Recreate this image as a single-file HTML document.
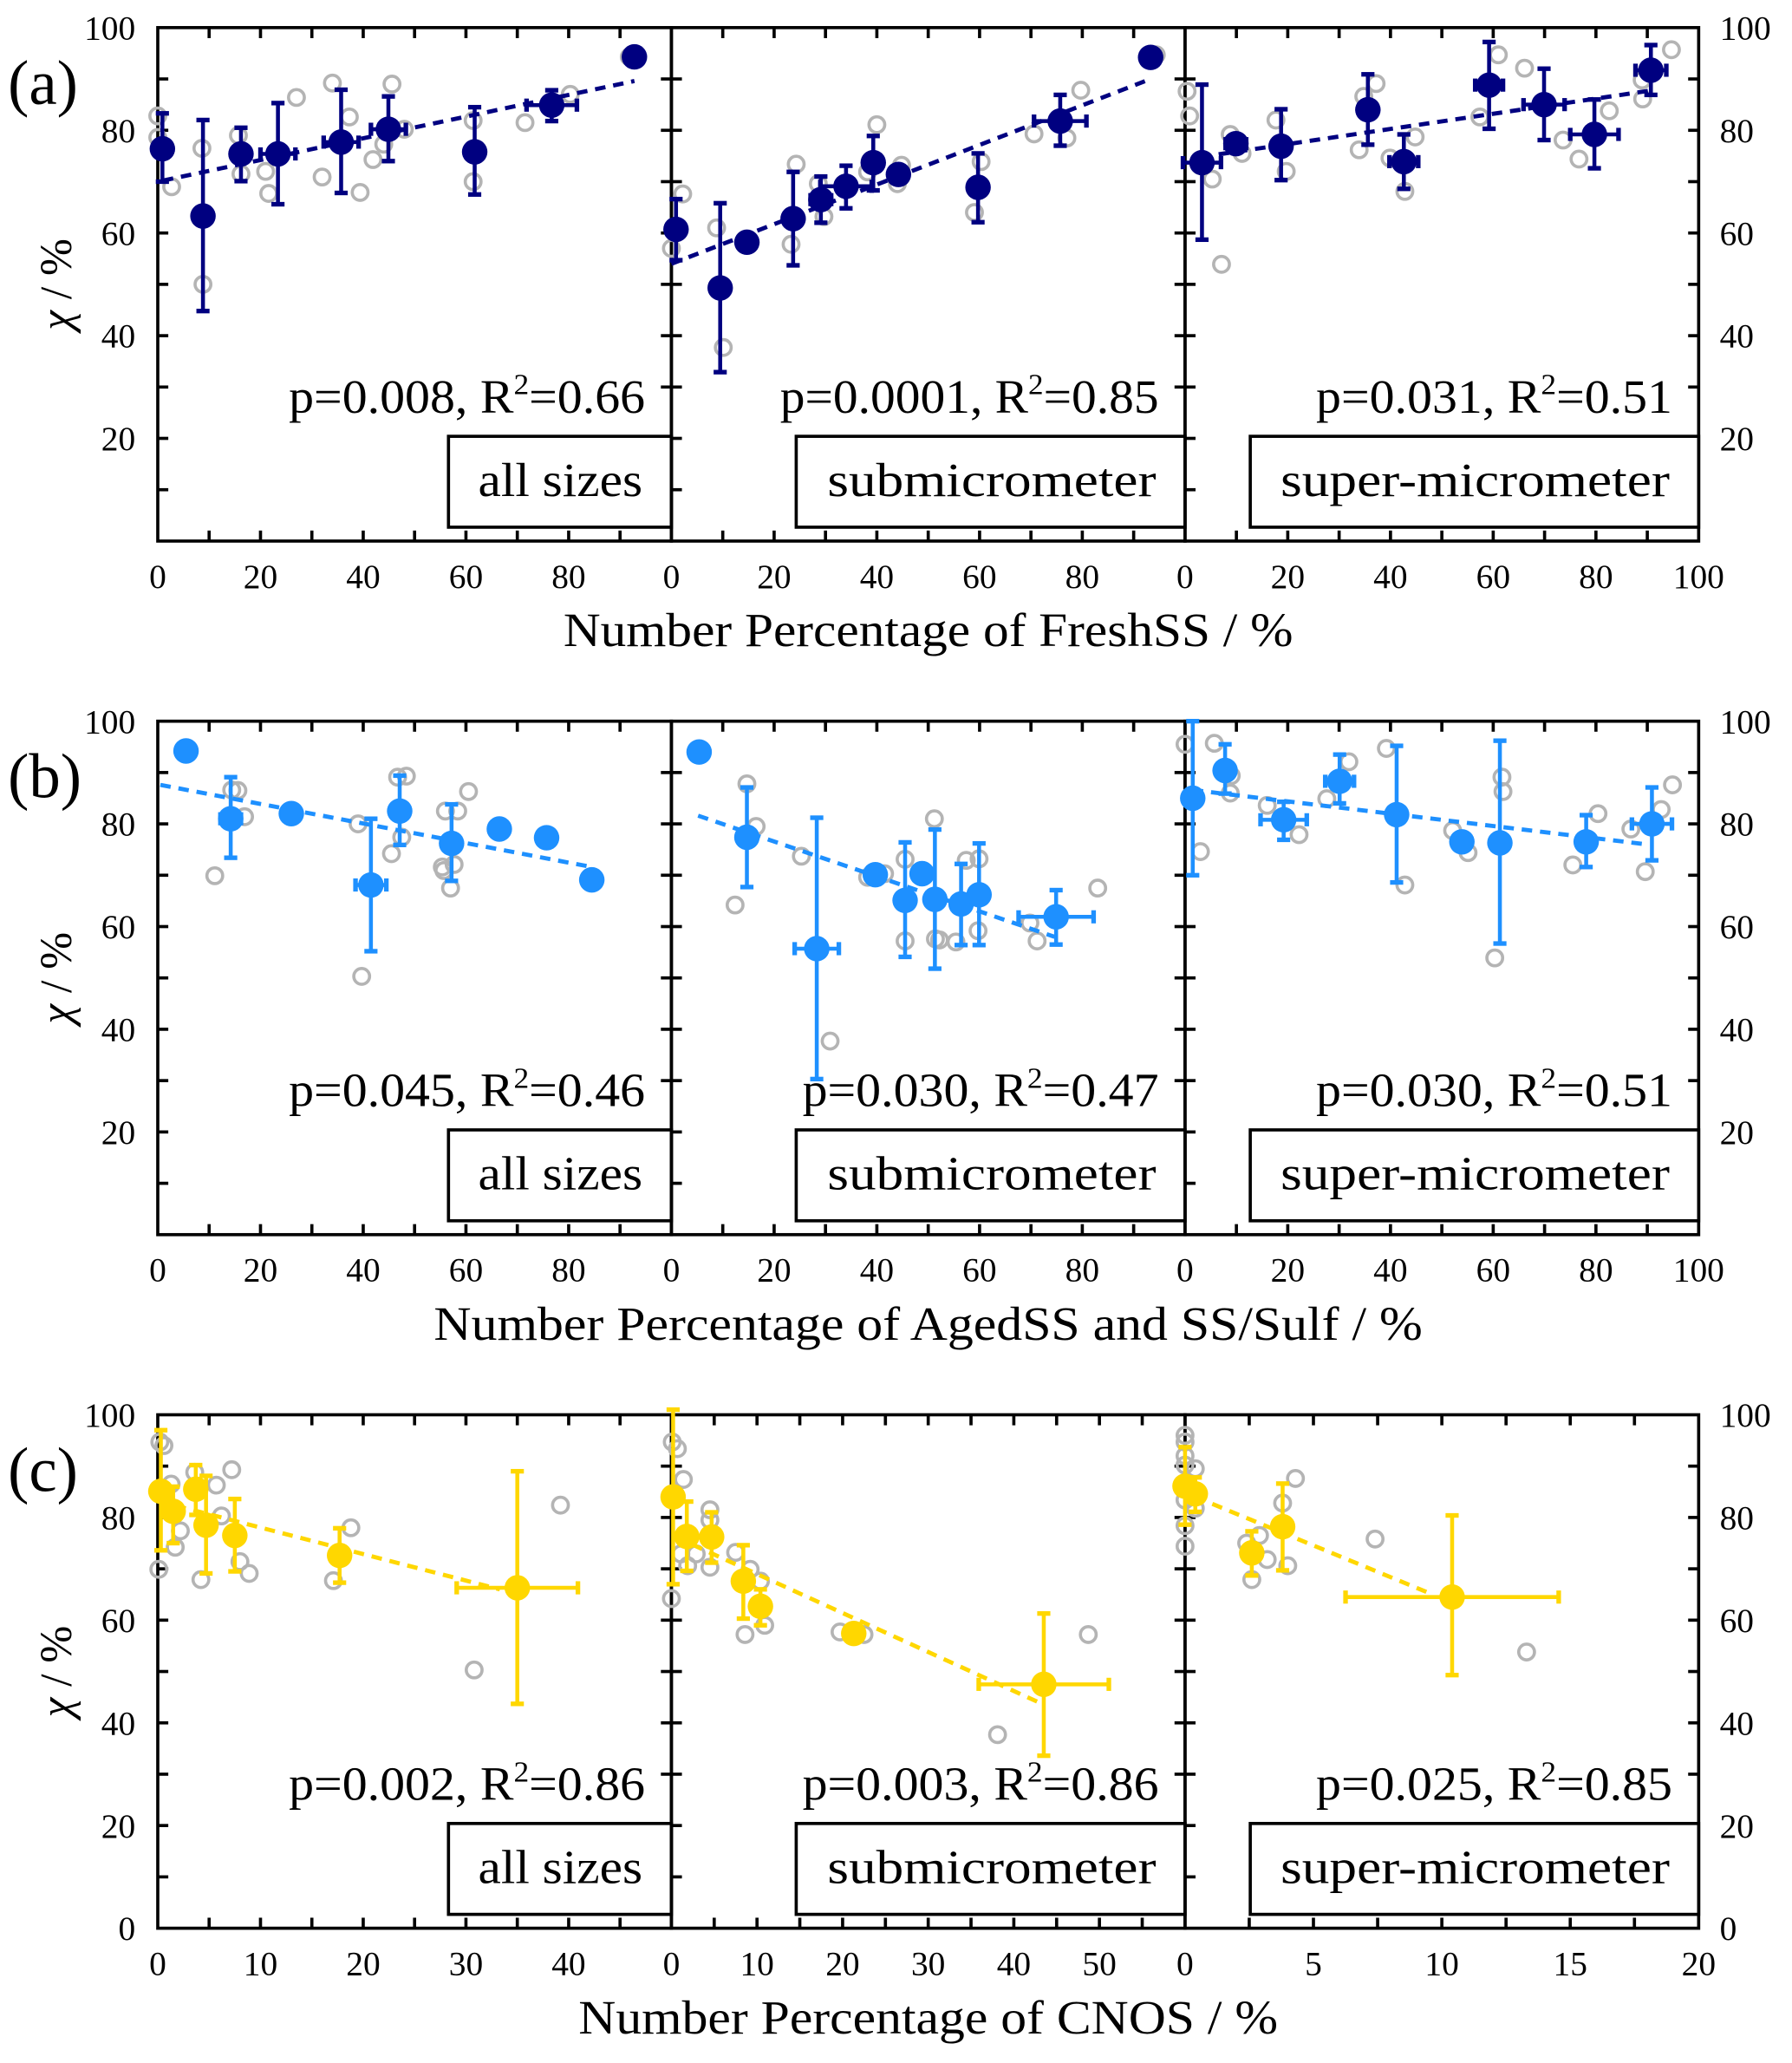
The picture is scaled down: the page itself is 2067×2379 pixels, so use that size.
<!DOCTYPE html>
<html><head><meta charset="utf-8"><title>chi vs number percentage</title>
<style>
html,body{margin:0;padding:0;background:#fff;}
svg{display:block;font-family:"Liberation Serif","DejaVu Serif",serif;}
text,tspan{font-family:"Liberation Serif","DejaVu Serif",serif;fill:#000;}
</style></head>
<body>
<svg id="chart" width="2067" height="2379" viewBox="0 0 1363 1569" preserveAspectRatio="none" font-family="Liberation Serif, DejaVu Serif, serif"></svg>
<script>
// ---------- data ----------
const a1_x=[0.9,8.8,16.2,23.4,35.7,44.9,61.7,76.7,92.8];
const a1_y=[76.4,63.3,75.4,75.4,77.7,80.2,75.8,84.9,94.3];
const a1_yHi=[83.3,82,80.5,85.3,87.9,86.6,84.5,87.8,null];
const a1_yLo=[70,44.8,70.1,65.6,67.8,74,67.5,81.8,null];
const a1_xErr=[0,0,0,3.4,3.4,3.4,0,4.9,0];
const a1_trend=[1,70.2,92.8,89.6];
const a1_gx=[0,0,2.7,8.6,8.8,15.7,16.2,21,21.6,27,32,34,37.3,39.4,41.9,44,45.6,48,61.4,61.4,71.5,80.3,91.8];
const a1_gy=[82.8,78.6,69,76.5,50,79,71.5,72,67.7,86.4,70.9,89.2,82.6,67.9,74.3,77.3,89,80.2,81.9,70,81.5,87,94.3];

const a2_x=[0.9,9.5,14.7,23.7,29.1,34,39.3,44.2,59.7,75.7,93.3];
const a2_y=[60.7,49.3,58.2,62.8,66.5,69.1,73.7,71.4,68.9,81.8,94.2];
const a2_yHi=[66.6,65.8,null,71.9,71,73.1,78.9,null,75.5,86.9,null];
const a2_yLo=[54.7,32.9,null,53.7,62,64.8,68.3,null,62.1,77,null];
const a2_xErr=[0,0,0,0,2,5,0,0,0,5.1,0];
const a2_trend=[0,54,93.3,90];
const a2_gx=[2.2,0,8.8,10.1,24.3,23.3,28.6,29.7,38.2,40,44.8,44,60.3,59,70.6,79.7,77,94.4];
const a2_gy=[67.6,57,61,37.7,73.4,57.8,69.6,63.2,71.9,81.1,73.2,69.6,73.9,64,79.3,87.8,78.5,94.7];

const a3_x=[3.3,9.9,18.7,35.6,42.6,59.2,69.9,79.7,90.7];
const a3_y=[73.7,77.4,76.9,84,73.9,88.8,85,79.2,91.7];
const a3_yHi=[88.9,null,84.1,90.9,79.2,97.2,92,86,96.6];
const a3_yLo=[58.7,null,70.3,77.2,68.6,80.3,78.1,72.6,86.9];
const a3_xErr=[3.7,2,0,0,2.8,2.7,4,4.7,3];
const a3_trend=[3,74.8,91,87.8];
const a3_gx=[0.4,0.9,5.3,7.1,8.8,11.1,17.7,19.7,33.9,34.8,37.2,39.9,44.8,42.8,61,57.4,66.1,73.6,76.7,82.6,89.1,89,94.7];
const a3_gy=[87.6,82.8,70.5,53.9,79.2,75.5,82,72,76.2,86.6,89.1,74.6,78.7,68.1,94.7,82.6,92.1,78.1,74.4,83.8,86.1,89.8,95.7];

const b1_x=[5.5,14.2,26,41.5,47.1,57.2,66.5,75.7,84.5];
const b1_y=[94.2,81,82,68.1,82.5,76.2,79,77.3,69.1];
const b1_yHi=[null,89.1,null,81,89.4,83.8,null,null,null];
const b1_yLo=[null,73.4,null,55.2,75.9,68.9,null,null,null];
const b1_xErr=[0,2,0,3,0,0,0,0,0];
const b1_trend=[0.5,87.6,84.5,71.6];
const b1_gx=[11.1,14.4,15.6,16.9,39,39.7,45.5,46.7,48.4,47.5,56,58.4,55.4,55.7,57.7,57,60.5];
const b1_gy=[69.9,86.6,86.5,81.4,80,50.3,74.2,89.1,89.3,77.4,82.5,82.5,71.6,70.9,72.1,67.5,86.3];

const b2_x=[5.4,14.7,28.3,39.7,48.8,45.5,51.3,56.4,59.9,74.9];
const b2_y=[94,77.4,55.7,70.1,70.3,65.1,65.3,64.4,66.2,61.9];
const b2_yHi=[null,87.1,81.2,null,null,76.4,78.9,72.2,76.2,67.1];
const b2_yLo=[null,67.7,30.3,null,null,54.1,51.8,56.4,56.4,56.5];
const b2_xErr=[0,0,4.3,0,0,0,0,0,0,7.3];
const b2_trend=[5.2,81.6,74.6,58];
const b2_gx=[14.7,16.5,12.4,25.3,30.9,38.2,41.5,45.5,45.5,51.2,51.4,52.2,55.4,57.4,59.9,59.7,69.8,71.2,83];
const b2_gy=[87.8,79.5,64.2,73.7,37.7,69.6,70.3,73.1,57.2,81,57.6,57.4,57,72.9,73.2,59.2,60.7,57.2,67.5];

const b3_x=[1.5,7.8,19.2,30.1,41.2,53.9,61.3,78.1,90.9];
const b3_y=[85,90.4,80.8,88.3,81.8,76.5,76.3,76.5,80];
const b3_yHi=[100,95.5,84.3,93.5,95.2,null,96.2,81.7,87.1];
const b3_yLo=[70,85.9,76.9,84,68.6,null,56.7,71.6,72.9];
const b3_xErr=[0,0,4.5,2.8,0,0,0,0,3.9];
const b3_trend=[1.5,86.6,89.1,76.1];
const b3_gx=[0,5.7,3,9,8.8,16,22.2,27.6,31.9,39.2,42.8,52.1,55.1,61.7,61.9,60.3,75.5,80.4,86.8,89.6,92.7,94.9];
const b3_gy=[95.5,95.7,74.6,89.4,86,83.6,77.9,84.9,92.1,94.7,68.1,78.7,74.4,89.1,86.3,53.9,72,82,79,70.7,82.8,87.6];

const c1_x=[0.3,1.5,3.7,4.7,7.5,17.7,35];
const c1_y=[85.1,81.2,85.5,78.5,76.5,72.6,66.3];
const c1_yHi=[97,86,90.2,88.1,83.6,77.9,89];
const c1_yLo=[73.6,75,80.5,69.1,69.5,67.3,43.7];
const c1_xErr=[0,0,0,0,0,0,5.9];
const c1_trend=[0,83.2,33.3,66];
const c1_gx=[0.2,0.6,0.1,1.3,2.2,1.7,3.6,5.7,7.2,6.2,4.2,8,8.9,17.1,18.8,30.8,39.2];
const c1_gy=[94.7,94,69.9,86.5,77.4,74.2,88.8,86.3,89.3,80.3,67.9,71.4,69.1,67.7,78,50.3,82.4];

const c2_x=[0.2,1.8,4.7,8.4,10.4,21.3,43.5];
const c2_y=[84,76.3,76.2,67.6,62.7,57.4,47.5];
const c2_yHi=[101,83.1,81,74.6,66,null,61.3];
const c2_yLo=[67,69.6,71.2,60.3,59,null,33.6];
const c2_xErr=[0,0,0,0,0,0,7.6];
const c2_trend=[0.5,76.2,42.9,44];
const c2_gx=[0.1,0.7,0,1.4,1.1,2.9,1.9,4.5,4.5,4.5,7.5,9.2,10.4,8.6,10.9,19.7,22.5,38.1,48.7];
const c2_gy=[94.7,93.4,64.2,87.4,72.9,72.9,70.6,81.5,79.5,70.3,73.2,69.9,67.6,57.2,59,57.7,57.2,37.7,57.2];

const c3_x=[0,0.4,2.6,3.8,10.4];
const c3_y=[86.1,84.6,73.1,78.2,64.5];
const c3_yHi=[93.7,87.8,77.3,86.6,80.4];
const c3_yLo=[78.6,81.1,68.7,69.7,49.3];
const c3_xErr=[0,0.3,0,0,4.15];
const c3_trend=[0.4,84,9.5,65.3];
const c3_gx=[0,0,0,0,0.4,0,0,0,0.4,2.4,2.9,2.6,3.2,3.8,4.3,4,7.4,13.3];
const c3_gy=[96,94.7,92,90.2,89.5,83.4,78.4,74.4,81.8,75,76.5,67.9,71.8,82.8,87.6,70.6,75.8,53.8];

const xLabelsAB=[0,20,40,60,80];
const xLabelsAB3=[0,20,40,60,80,100];
const xLabelsC1=[0,10,20,30,40];
const xLabelsC2=[0,10,20,30,40,50];
const xLabelsC3=[0,5,10,15,20];
const yLabelsAB=[20,40,60,80,100];
const yLabelsC=[0,20,40,60,80,100];
const statsA=["p=0.008, R|=0.66","p=0.0001, R|=0.85","p=0.031, R|=0.51"];
const statsB=["p=0.045, R|=0.46","p=0.030, R|=0.47","p=0.030, R|=0.51"];
const statsC=["p=0.002, R|=0.86","p=0.003, R|=0.86","p=0.025, R|=0.85"];
const sizeNames=["all sizes","submicrometer","super-micrometer"];
const xTitles=["Number Percentage of FreshSS / %","Number Percentage of AgedSS and SS/Sulf / %","Number Percentage of CNOS / %"];
const rowLetters=["(a)","(b)","(c)"];

// ---------- layout ----------
const NS='http://www.w3.org/2000/svg';
const svg=document.getElementById('chart');
const rows=[{top:21,bot:411.5},{top:548.5,bot:939},{top:1076,bot:1466.5}];
const PL=120, PW=390.67;
const colors=['#000080','#1e90ff','#ffd700'];
const statW=[271,288,271], statWB=[271,271,271];
const boxFrac=[0.566,0.243,0.127];
const boxTextW=[125,250,296];
const FF='Liberation Serif, DejaVu Serif, serif';

function mk(tag,attrs,parent){const e=document.createElementNS(NS,tag);for(const k in attrs)e.setAttribute(k,attrs[k]);if(tag==='text')e.setAttribute('font-family',FF);(parent||svg).appendChild(e);return e;}

const panels=[
 {r:0,c:0,xmax:100,step:10,xl:xLabelsAB,x:a1_x,y:a1_y,hi:a1_yHi,lo:a1_yLo,xe:a1_xErr,t:a1_trend,gx:a1_gx,gy:a1_gy,st:statsA[0]},
 {r:0,c:1,xmax:100,step:10,xl:xLabelsAB,x:a2_x,y:a2_y,hi:a2_yHi,lo:a2_yLo,xe:a2_xErr,t:a2_trend,gx:a2_gx,gy:a2_gy,st:statsA[1]},
 {r:0,c:2,xmax:100,step:10,xl:xLabelsAB3,x:a3_x,y:a3_y,hi:a3_yHi,lo:a3_yLo,xe:a3_xErr,t:a3_trend,gx:a3_gx,gy:a3_gy,st:statsA[2]},
 {r:1,c:0,xmax:100,step:10,xl:xLabelsAB,x:b1_x,y:b1_y,hi:b1_yHi,lo:b1_yLo,xe:b1_xErr,t:b1_trend,gx:b1_gx,gy:b1_gy,st:statsB[0]},
 {r:1,c:1,xmax:100,step:10,xl:xLabelsAB,x:b2_x,y:b2_y,hi:b2_yHi,lo:b2_yLo,xe:b2_xErr,t:b2_trend,gx:b2_gx,gy:b2_gy,st:statsB[1]},
 {r:1,c:2,xmax:100,step:10,xl:xLabelsAB3,x:b3_x,y:b3_y,hi:b3_yHi,lo:b3_yLo,xe:b3_xErr,t:b3_trend,gx:b3_gx,gy:b3_gy,st:statsB[2]},
 {r:2,c:0,xmax:50,step:5,xl:xLabelsC1,x:c1_x,y:c1_y,hi:c1_yHi,lo:c1_yLo,xe:c1_xErr,t:c1_trend,gx:c1_gx,gy:c1_gy,st:statsC[0]},
 {r:2,c:1,xmax:60,step:5,xl:xLabelsC2,x:c2_x,y:c2_y,hi:c2_yHi,lo:c2_yLo,xe:c2_xErr,t:c2_trend,gx:c2_gx,gy:c2_gy,st:statsC[1]},
 {r:2,c:2,xmax:20,step:2.5,xl:xLabelsC3,x:c3_x,y:c3_y,hi:c3_yHi,lo:c3_yLo,xe:c3_xErr,t:c3_trend,gx:c3_gx,gy:c3_gy,st:statsC[2]}
];

panels.forEach(p=>{
  const row=rows[p.r], L=PL+p.c*PW, R=L+PW, col=colors[p.r];
  const X=v=>L+v/p.xmax*PW;
  const Y=v=>row.bot-v/100*(row.bot-row.top);
  const g=mk('g',{});
  
  
  const fr=mk('rect',{x:L,y:row.top,width:PW,height:row.bot-row.top,fill:'none',stroke:'#000','stroke-width':2.4},g);
  
  
  for(let v=10;v<100;v+=10){
    const tl=mk('line',{x1:L,x2:L+8,y1:Y(v),y2:Y(v),stroke:'#000','stroke-width':2.4},g);
    
    
    const tr=mk('line',{x1:R-8,x2:R,y1:Y(v),y2:Y(v),stroke:'#000','stroke-width':2.4},g);
    
    
  }
  for(let v=p.step;v<p.xmax-0.01;v+=p.step){
    const tb=mk('line',{x1:X(v),x2:X(v),y1:row.bot,y2:row.bot-8,stroke:'#000','stroke-width':2.4},g);
    
    
    const tt=mk('line',{x1:X(v),x2:X(v),y1:row.top,y2:row.top+8,stroke:'#000','stroke-width':2.4},g);
    
    
  }
  p.xl.forEach(v=>{
    const t=mk('text',{x:X(v),y:row.bot+35.5,'text-anchor':'middle','font-size':26},g);
    t.textContent=String(v);
    
    
  });
  const yl=p.r===2?yLabelsC:yLabelsAB;
  if(p.c===0) yl.forEach(v=>{
    const t=mk('text',{x:103,y:Y(v)+9,'text-anchor':'end','font-size':26},g);
    t.textContent=String(v);
    
    
  });
  if(p.c===2) yl.forEach(v=>{
    const t=mk('text',{x:1308,y:Y(v)+9,'text-anchor':'start','font-size':26},g);
    t.textContent=String(v);
    
    
  });
  const bx=L+boxFrac[p.c]*PW;
  const box=mk('rect',{x:bx,y:Y(20.4),width:R-bx,height:Y(2.7)-Y(20.4),fill:'#fff',stroke:'#000','stroke-width':2.4},g);
  
  
  const bt=mk('text',{x:R-22,y:Y(8.8),'text-anchor':'end','font-size':36,textLength:boxTextW[p.c],lengthAdjust:'spacingAndGlyphs'},g);
  bt.textContent=sizeNames[p.c];
  
  
  const parts=p.st.split('|');
  const sw=(p.r===0?statW:statWB)[p.c];
  const st=mk('text',{x:R-20,y:Y(25),'text-anchor':'end','font-size':36,textLength:sw,lengthAdjust:'spacingAndGlyphs'},g);
  
  
  const s1=mk('tspan',{},st); s1.textContent=parts[0];
  const s2=mk('tspan',{dy:-14,'font-size':22},st); s2.textContent='2';
  const s3=mk('tspan',{dy:14},st); s3.textContent=parts[1];
  p.gx.forEach((v,i)=>{
    const c=mk('circle',{cx:X(v),cy:Y(p.gy[i]),r:6,fill:'none',stroke:'#b4b4b4','stroke-width':2.4},g);
    
    
  });
  p.x.forEach((v,i)=>{
    if(p.hi[i]!==null){
      const e=mk('line',{x1:X(v),x2:X(v),y1:Y(p.hi[i]),y2:Y(p.lo[i]),stroke:col,'stroke-width':3},g);
      
      
      [p.hi[i],p.lo[i]].forEach(w=>{
        const cp=mk('line',{x1:X(v)-5,x2:X(v)+5,y1:Y(w),y2:Y(w),stroke:col,'stroke-width':3.5},g);
        
        
      });
    }
    if(p.xe[i]>0){
      const xa=X(v-p.xe[i]), xb=X(v+p.xe[i]);
      const e=mk('line',{x1:xa,x2:xb,y1:Y(p.y[i]),y2:Y(p.y[i]),stroke:col,'stroke-width':3},g);
      
      
      [xa,xb].forEach(xx=>{
        const cp=mk('line',{x1:xx,x2:xx,y1:Y(p.y[i])-5,y2:Y(p.y[i])+5,stroke:col,'stroke-width':3.5},g);
        
        
      });
    }
  });
  const tl=mk('line',{x1:X(p.t[0]),y1:Y(p.t[1]),x2:X(p.t[2]),y2:Y(p.t[3]),stroke:col,'stroke-width':3.2,'stroke-dasharray':'8 6'},g);
  
  
  p.x.forEach((v,i)=>{
    const d=mk('circle',{cx:X(v),cy:Y(p.y[i]),r:9.7,fill:col},g);
    
    
  });
});

rows.forEach((row,r)=>{
  const lt=mk('text',{x:6,y:row.top+58,'font-size':48});
  lt.textContent=rowLetters[r];
  
  
  const cy=(row.top+row.bot)/2;
  const yt=mk('text',{x:0,y:0,'text-anchor':'middle','font-size':34,transform:'translate(54,'+cy+') rotate(-90)'});
  
  
  const y1=mk('tspan',{'font-style':'italic'},yt); y1.textContent='χ';
  const y2=mk('tspan',{},yt); y2.textContent=' / %';
  const xt=mk('text',{x:706,y:row.bot+80,'text-anchor':'middle','font-size':36,textLength:[555,752,532][r],lengthAdjust:'spacingAndGlyphs'});
  xt.textContent=xTitles[r];
  
  
});
</script>
</body></html>
